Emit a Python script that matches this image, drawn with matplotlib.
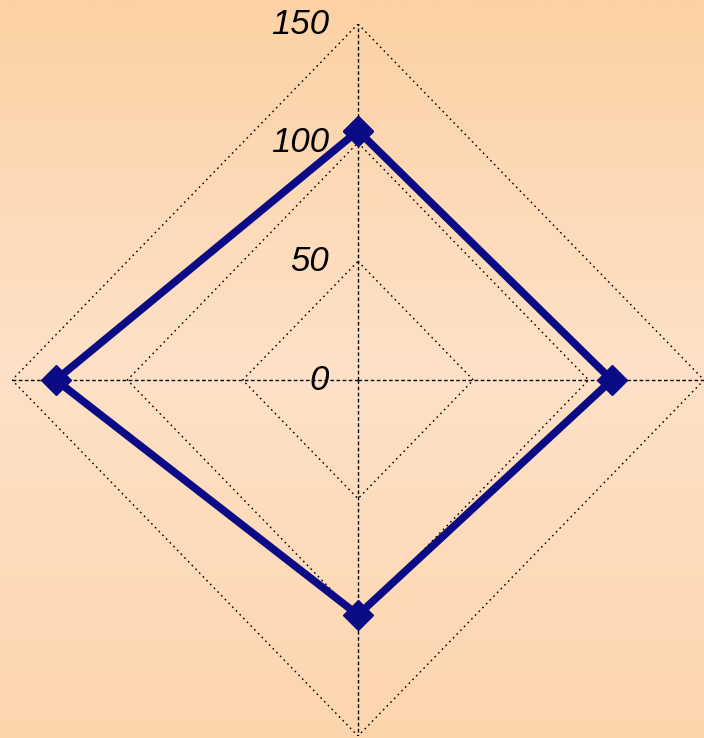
import numpy as np
import matplotlib
matplotlib.use("Agg")
import matplotlib.pyplot as plt
from matplotlib.colors import LinearSegmentedColormap

# data
categories = ["A", "B", "C", "D"]
values = [105, 110, 99, 131]
grid_levels = [50, 100, 150]
tick_labels = ["0", "50", "100", "150"]
tick_values = [0, 50, 100, 150]

fig = plt.figure(figsize=(7.04, 7.38), dpi=100)

# background gradient
bg = fig.add_axes([0, 0, 1, 1], zorder=-1)
cmap = LinearSegmentedColormap.from_list("bg", ["#fcd1a4", "#fee1c7", "#fdd5ad"])
bg.imshow(np.linspace(0, 1, 256).reshape(-1, 1), cmap=cmap, aspect="auto",
          extent=[0, 1, 0, 1])
bg.axis("off")

ax = fig.add_axes([12 / 704, 2 / 738, 692 / 704, 712 / 738], projection="polar")
ax.set_aspect("auto")
ax.patch.set_alpha(0)
ax.set_theta_offset(np.pi / 2)
ax.set_theta_direction(-1)
ax.set_ylim(0, 150)
ax.grid(False)
ax.spines["polar"].set_visible(False)
ax.set_xticks([])
ax.set_yticks([])

theta = np.linspace(0, 2 * np.pi, len(categories), endpoint=False)
closed_theta = np.append(theta, theta[0])

# spokes
for th in theta:
    ax.plot([th, th], [0, 150], color="black", lw=1.0, dashes=(2.6, 1.8), zorder=1)

# diamond grid
for lv in grid_levels:
    ax.plot(closed_theta, [lv] * len(closed_theta), color="black", lw=1.0,
            dashes=(1.2, 2.6), zorder=1)

# series
ax.plot(closed_theta, values + values[:1], color="#0b0b85", lw=5.5,
        marker="D", markersize=15, zorder=3, solid_joinstyle="miter")

# radial labels
for v, t in zip(tick_values, tick_labels):
    ax.annotate(t, xy=(0, v), xytext=(-21, 0), textcoords="offset points",
                ha="right", va="center", fontsize=25, style="italic",
                family="Liberation Sans", color="black", zorder=4,
                annotation_clip=False)

fig.savefig("out.png", dpi=100)
